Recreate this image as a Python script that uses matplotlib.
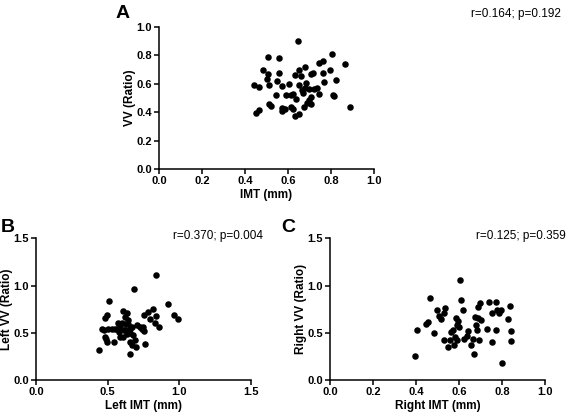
#scatter plots of VV ratio against IMT (whole, left, right)
import numpy as np
import matplotlib
matplotlib.use('Agg')
import matplotlib.pyplot as plt

plt.rcParams['font.family'] = ['Liberation Sans', 'DejaVu Sans']

#panel A: IMT vs VV
imt_a = [0.443,0.463,0.449,0.463,0.486,0.506,0.557,0.508,0.503,0.511,0.556,0.549,0.570,0.542,0.512,
         0.519,0.573,0.570,0.585,0.646,0.633,0.650,0.661,0.680,0.607,0.591,0.613,0.624,0.635,0.616,
         0.622,0.632,0.650,0.650,0.663,0.669,0.673,0.690,0.700,0.706,0.709,0.698,0.707,0.717,0.723,
         0.737,0.743,0.745,0.763,0.763,0.766,0.796,0.803,0.808,0.816,0.822,0.864,0.887,0.686,0.680]
vv_a = [0.588,0.574,0.394,0.412,0.694,0.785,0.778,0.666,0.630,0.588,0.675,0.619,0.584,0.523,0.457,
        0.443,0.427,0.405,0.424,0.900,0.659,0.696,0.654,0.715,0.598,0.518,0.518,0.527,0.492,0.438,
        0.420,0.370,0.389,0.588,0.555,0.537,0.438,0.462,0.485,0.455,0.509,0.560,0.666,0.673,0.565,
        0.572,0.748,0.527,0.762,0.673,0.614,0.694,0.806,0.520,0.513,0.628,0.736,0.438,0.602,0.567]

#panel B: left IMT vs left VV
imt_b = [0.439,0.479,0.493,0.512,0.463,0.484,0.488,0.498,0.502,0.544,0.589,0.554,0.584,0.600,0.607,
         0.636,0.619,0.628,0.645,0.657,0.659,0.659,0.673,0.696,0.694,0.654,0.685,0.706,0.727,0.741,
         0.752,0.759,0.745,0.755,0.780,0.792,0.818,0.834,0.829,0.857,0.834,0.918,0.965,0.988,0.572,
         0.624,0.636,0.607,0.565,0.530,0.477,0.640,0.671,0.680,0.612,0.647,0.589,0.577]
vv_b = [0.321,0.652,0.684,0.837,0.538,0.456,0.435,0.403,0.538,0.403,0.456,0.538,0.552,0.606,0.730,
        0.712,0.663,0.591,0.588,0.538,0.502,0.403,0.374,0.349,0.428,0.271,0.962,0.581,0.563,0.538,
        0.517,0.385,0.566,0.684,0.723,0.641,0.752,0.677,0.599,0.563,1.108,0.809,0.684,0.641,0.599,
        0.527,0.492,0.456,0.538,0.538,0.527,0.634,0.563,0.474,0.527,0.509,0.581,0.509]

#panel C: right IMT vs right VV
imt_c = [0.394,0.406,0.447,0.456,0.467,0.486,0.497,0.508,0.517,0.528,0.536,0.528,0.548,0.558,0.564,
         0.573,0.580,0.578,0.589,0.586,0.589,0.595,0.606,0.609,0.619,0.623,0.636,0.644,0.655,0.664,
         0.669,0.673,0.680,0.683,0.688,0.695,0.698,0.703,0.728,0.738,0.753,0.755,0.770,0.773,0.775,
         0.786,0.794,0.802,0.830,0.836,0.841,0.844,0.689,0.598]
vv_c = [0.249,0.531,0.591,0.613,0.866,0.499,0.737,0.677,0.648,0.712,0.762,0.428,0.349,0.428,0.509,
        0.527,0.456,0.370,0.420,0.652,0.581,0.627,1.062,0.848,0.741,0.438,0.470,0.520,0.374,0.438,
        0.278,0.670,0.581,0.527,0.777,0.428,0.819,0.634,0.541,0.830,0.403,0.712,0.531,0.830,0.741,
        0.705,0.741,0.182,0.645,0.784,0.524,0.410,0.652,0.556]

#letter, x, y, xlabel, ylabel, stats, axes rect, x range, y range, letter pos, stats pos
panels = [
    ('A', imt_a, vv_a, 'IMT (mm)', 'VV (Ratio)', 'r=0.164; p=0.192',
     [0.2804, 0.5928, 0.3792, 0.3430], (1.0, 0.2), (1.0, 0.2), (-0.20, 1.09), (1.87, 1.09)),
    ('B', imt_b, vv_b, 'Left IMT (mm)', 'Left VV (Ratio)', 'r=0.370; p=0.004',
     [0.0635, 0.0843, 0.3792, 0.3414], (1.5, 0.5), (1.5, 0.5), (-0.165, 1.08), (1.055, 1.02)),
    ('C', imt_c, vv_c, 'Right IMT (mm)', 'Right VV (Ratio)', 'r=0.125; p=0.359',
     [0.5820, 0.0843, 0.3792, 0.3414], (1.0, 0.2), (1.5, 0.5), (-0.225, 1.08), (1.095, 1.02)),
]

fig = plt.figure(figsize=(5.67, 4.15), dpi=100)

for letter, x, y, xl, yl, stat, pos, (xmax, xstep), (ymax, ystep), lpos, spos in panels:
    ax = fig.add_axes(pos)
    ax.scatter(x, y, s=22, color='black', linewidths=0, clip_on=False, zorder=3)
    ax.set_xlim(0, xmax)
    ax.set_ylim(0, ymax)
    ax.set_xticks(np.arange(0, xmax + 1e-9, xstep))
    ax.set_yticks(np.arange(0, ymax + 1e-9, ystep))
    ax.xaxis.set_major_formatter('{x:.1f}')
    ax.yaxis.set_major_formatter('{x:.1f}')
    for s in ['top', 'right']:
        ax.spines[s].set_visible(False)
    for s in ['left', 'bottom']:
        ax.spines[s].set_linewidth(1.1)
    ax.tick_params(direction='out', length=3.5, width=1.1, labelsize=8, pad=1.5)
    for lab in ax.get_xticklabels() + ax.get_yticklabels():
        lab.set_fontweight('bold')
    ax.set_xlabel(xl, fontsize=8.5, fontweight='bold', labelpad=2)
    ax.set_ylabel(yl, fontsize=8.5, fontweight='bold', labelpad=0)
    ax.text(spos[0], spos[1], stat, transform=ax.transAxes, ha='right', va='center', fontsize=8.5)
    ax.text(lpos[0], lpos[1], letter, transform=ax.transAxes, ha='left', va='center',
            fontsize=14, fontweight='bold')

fig.savefig('out.png', dpi=100)
